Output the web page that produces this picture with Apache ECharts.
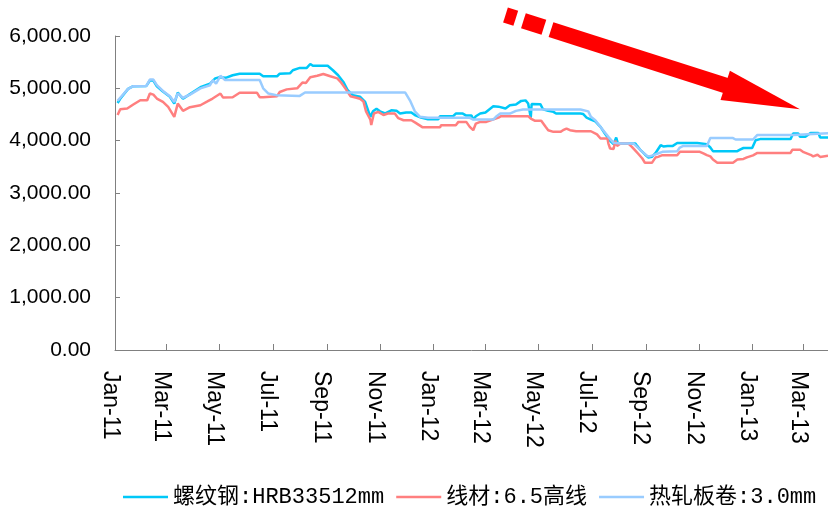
<!DOCTYPE html>
<html>
<head>
<meta charset="utf-8">
<script src="https://cdn.jsdelivr.net/npm/echarts@6/dist/echarts.min.js"></script>
<style>
  html, body { margin: 0; padding: 0; background: #ffffff; }
  #chart { width: 828px; height: 511px; }
</style>
</head>
<body>
<div id="chart"></div>
<script>
// Axis ticks: first day of every other month
const tickDates = ['2011-01-01', '2011-03-01', '2011-05-01', '2011-07-01', '2011-09-01', '2011-11-01',
  '2012-01-01', '2012-03-01', '2012-05-01', '2012-07-01', '2012-09-01', '2012-11-01',
  '2013-01-01', '2013-03-01'];
const tickLabels = ['Jan-11', 'Mar-11', 'May-11', 'Jul-11', 'Sep-11', 'Nov-11',
  'Jan-12', 'Mar-12', 'May-12', 'Jul-12', 'Sep-12', 'Nov-12',
  'Jan-13', 'Mar-13'];
const seriesNames = ['螺纹钢:HRB33512mm', '线材:6.5高线', '热轧板卷:3.0mm'];

// 螺纹钢 HRB335 12mm (元/吨)
const rebarDates = ['2011-01-04', '2011-01-07', '2011-01-16', '2011-01-22', '2011-02-06', '2011-02-10', '2011-02-14', '2011-02-18',
  '2011-02-25', '2011-03-05', '2011-03-10', '2011-03-14', '2011-03-20', '2011-03-28', '2011-04-09', '2011-04-20',
  '2011-04-26', '2011-04-30', '2011-05-08', '2011-05-16', '2011-05-24', '2011-06-16', '2011-06-20', '2011-07-06',
  '2011-07-09', '2011-07-21', '2011-07-24', '2011-08-01', '2011-08-09', '2011-08-13', '2011-08-16', '2011-09-02',
  '2011-09-08', '2011-09-14', '2011-09-20', '2011-09-25', '2011-10-01', '2011-10-09', '2011-10-15', '2011-10-21',
  '2011-10-24', '2011-10-28', '2011-11-01', '2011-11-07', '2011-11-14', '2011-11-20', '2011-11-24', '2011-12-01',
  '2011-12-07', '2011-12-11', '2011-12-18', '2011-12-26', '2012-01-07', '2012-01-09', '2012-01-24', '2012-01-27',
  '2012-02-04', '2012-02-08', '2012-02-14', '2012-02-16', '2012-02-19', '2012-02-24', '2012-03-01', '2012-03-10',
  '2012-03-16', '2012-03-24', '2012-03-29', '2012-04-05', '2012-04-11', '2012-04-16', '2012-04-19', '2012-04-21',
  '2012-04-22', '2012-04-23', '2012-05-03', '2012-05-06', '2012-05-12', '2012-05-18', '2012-05-21', '2012-06-18',
  '2012-06-21', '2012-06-25', '2012-06-30', '2012-07-05', '2012-07-11', '2012-07-16', '2012-07-22', '2012-07-26',
  '2012-07-29', '2012-07-31', '2012-08-20', '2012-08-22', '2012-08-26', '2012-08-31', '2012-09-04', '2012-09-08',
  '2012-09-12', '2012-09-18', '2012-09-21', '2012-09-26', '2012-10-02', '2012-10-07', '2012-10-30', '2012-10-31',
  '2012-11-10', '2012-11-14', '2012-11-17', '2012-12-15', '2012-12-18', '2012-12-22', '2013-01-01', '2013-01-05',
  '2013-01-10', '2013-02-14', '2013-02-17', '2013-02-23', '2013-02-25', '2013-03-03', '2013-03-09', '2013-03-18',
  '2013-03-20', '2013-03-29'];
const rebarPrices = [4720, 4800, 4990, 5040, 5046, 5150, 5150, 5040,
  4940, 4840, 4710, 4920, 4800, 4890, 5020, 5090,
  5190, 5210, 5200, 5250, 5280, 5280, 5231, 5231,
  5280, 5290, 5346, 5390, 5390, 5465, 5430, 5430,
  5346, 5250, 5122, 4964, 4870, 4840, 4740, 4455,
  4560, 4610, 4560, 4520, 4580, 4570, 4520, 4540,
  4540, 4490, 4440, 4410, 4410, 4467, 4467, 4518,
  4518, 4480, 4480, 4404, 4467, 4518, 4540, 4658,
  4650, 4614, 4677, 4690, 4760, 4770, 4709, 4709,
  4440, 4700, 4697, 4600, 4569, 4550, 4518, 4518,
  4510, 4442, 4404, 4370, 4264, 4137, 3996, 3933,
  4060, 3945, 3945, 3900, 3818, 3736, 3677, 3690,
  3760, 3913, 3890, 3900, 3900, 3955, 3955, 3933,
  3933, 3869, 3800, 3800, 3830, 3860, 3860, 4009,
  4030, 4030, 4137, 4137, 4073, 4073, 4148, 4148,
  4060, 4060];

// 线材 6.5 高线 (元/吨)
const wireDates = ['2011-01-04', '2011-01-07', '2011-01-15', '2011-01-22', '2011-01-30', '2011-02-07', '2011-02-10', '2011-02-14',
  '2011-02-18', '2011-02-25', '2011-03-03', '2011-03-10', '2011-03-14', '2011-03-20', '2011-03-28', '2011-04-09',
  '2011-04-17', '2011-04-23', '2011-05-02', '2011-05-05', '2011-05-16', '2011-05-24', '2011-06-13', '2011-06-16',
  '2011-06-20', '2011-07-06', '2011-07-09', '2011-07-17', '2011-07-29', '2011-08-04', '2011-08-08', '2011-08-13',
  '2011-08-21', '2011-08-28', '2011-09-05', '2011-09-13', '2011-09-17', '2011-09-23', '2011-09-28', '2011-10-05',
  '2011-10-09', '2011-10-13', '2011-10-16', '2011-10-21', '2011-10-22', '2011-10-25', '2011-10-30', '2011-11-05',
  '2011-11-10', '2011-11-18', '2011-11-22', '2011-11-28', '2011-12-07', '2011-12-12', '2011-12-20', '2012-01-09',
  '2012-01-10', '2012-01-27', '2012-01-30', '2012-02-08', '2012-02-12', '2012-02-16', '2012-02-19', '2012-02-24',
  '2012-03-02', '2012-03-16', '2012-03-19', '2012-04-19', '2012-04-22', '2012-04-27', '2012-05-04', '2012-05-09',
  '2012-05-12', '2012-05-18', '2012-05-26', '2012-05-29', '2012-06-02', '2012-06-06', '2012-06-13', '2012-06-30',
  '2012-07-07', '2012-07-11', '2012-07-19', '2012-07-20', '2012-07-22', '2012-07-26', '2012-07-28', '2012-07-30',
  '2012-08-03', '2012-08-12', '2012-08-16', '2012-08-20', '2012-08-23', '2012-08-28', '2012-08-31', '2012-09-08',
  '2012-09-12', '2012-09-15', '2012-09-20', '2012-10-07', '2012-10-10', '2012-11-02', '2012-11-06', '2012-11-10',
  '2012-11-14', '2012-11-17', '2012-11-22', '2012-12-10', '2012-12-15', '2012-12-22', '2012-12-26', '2013-01-02',
  '2013-01-07', '2013-02-14', '2013-02-16', '2013-02-25', '2013-03-01', '2013-03-09', '2013-03-12', '2013-03-17',
  '2013-03-20', '2013-03-29'];
const wirePrices = [4490, 4600, 4614, 4690, 4773, 4773, 4900, 4880,
  4805, 4741, 4646, 4455, 4709, 4570, 4640, 4677,
  4750, 4805, 4900, 4823, 4830, 4915, 4915, 4830,
  4830, 4850, 4930, 4980, 5000, 5110, 5100, 5210,
  5240, 5275, 5230, 5190, 5120, 4980, 4850, 4820,
  4800, 4750, 4560, 4400, 4300, 4520, 4550, 4490,
  4518, 4518, 4430, 4390, 4390, 4340, 4255, 4255,
  4296, 4296, 4359, 4359, 4264, 4200, 4327, 4359,
  4359, 4442, 4468, 4468, 4423, 4379, 4379, 4264,
  4200, 4168, 4168, 4200, 4232, 4200, 4180, 4180,
  4120, 4041, 4041, 3950, 3850, 3840, 4000, 3900,
  3945, 3945, 3882, 3810, 3754, 3659, 3576, 3576,
  3677, 3690, 3723, 3723, 3786, 3786, 3755, 3723,
  3700, 3640, 3580, 3580, 3640, 3650, 3680, 3720,
  3765, 3765, 3825, 3825, 3780, 3730, 3700, 3730,
  3690, 3710];

// 热轧板卷 3.0mm (元/吨)
const coilDates = ['2011-01-04', '2011-01-07', '2011-01-16', '2011-01-22', '2011-02-06', '2011-02-10', '2011-02-14', '2011-02-18',
  '2011-02-25', '2011-03-05', '2011-03-10', '2011-03-14', '2011-03-20', '2011-03-28', '2011-04-09', '2011-04-20',
  '2011-04-23', '2011-04-27', '2011-05-02', '2011-05-07', '2011-06-16', '2011-06-20', '2011-06-26', '2011-07-05',
  '2011-07-06', '2011-08-01', '2011-08-07', '2011-11-30', '2011-12-06', '2011-12-11', '2011-12-17', '2011-12-26',
  '2012-02-12', '2012-02-16', '2012-03-10', '2012-03-13', '2012-03-18', '2012-03-29', '2012-04-05', '2012-04-13',
  '2012-06-18', '2012-06-27', '2012-06-30', '2012-07-05', '2012-07-14', '2012-07-20', '2012-07-26', '2012-08-03',
  '2012-08-18', '2012-08-22', '2012-08-28', '2012-09-03', '2012-09-06', '2012-09-09', '2012-09-14', '2012-09-20',
  '2012-10-07', '2012-10-10', '2012-10-14', '2012-11-10', '2012-11-14', '2012-12-10', '2012-12-13', '2013-01-02',
  '2013-01-07', '2013-02-17', '2013-02-19', '2013-03-29'];
const coilPrices = [4760, 4820, 4990, 5040, 5046, 5168, 5168, 5060,
  4950, 4850, 4740, 4900, 4820, 4880, 5000, 5060,
  5155, 5090, 5240, 5160, 5160, 5000, 4900, 4870,
  4855, 4855, 4920, 4920, 4750, 4560, 4455, 4436,
  4436, 4404, 4404, 4455, 4518, 4518, 4569, 4595,
  4595, 4560, 4455, 4391, 4200, 4073, 3958, 3945,
  3945, 3882, 3786, 3704, 3704, 3720, 3750, 3786,
  3800, 3869, 3900, 3900, 4050, 4050, 4022, 4022,
  4110, 4110, 4140, 4140];

const seriesColors = ['#00C8F8', '#FF7F7F', '#99CCFF'];

// Dates are placed on a numeric axis as day offsets from the first tick
const DAY = 86400000;
const origin = Date.UTC(2011, 0, 1);
function toDay(s) {
  const p = s.split('-').map(Number);
  return Math.round((Date.UTC(p[0], p[1] - 1, p[2]) - origin) / DAY);
}
function pairs(dates, values) {
  return dates.map((d, i) => [toDay(d), values[i]]);
}
function thousands(v) {
  const parts = Number(v).toFixed(2).split('.');
  return parts[0].replace(/\B(?=(\d{3})+(?!\d))/g, ',') + '.' + parts[1];
}
const tickDays = tickDates.map(toDay);

// Downward trend arrow: two dashes, then a solid shaft ending in a head
function trendArrow() {
  const ox = 505.5, oy = 15;
  const ang = Math.atan2(94.3, 294.5);
  const ux = Math.cos(ang), uy = Math.sin(ang);
  const nx = -uy, ny = ux;
  const pt = (s, w) => [ox + ux * s + nx * w, oy + uy * s + ny * w];
  const hw = 7.8;
  const style = { fill: '#FF0000' };
  const bar = (a, b) => ({
    type: 'polygon', silent: true, z: 100,
    shape: { points: [pt(a, -hw), pt(b, -hw), pt(b, hw), pt(a, hw)] },
    style: style
  });
  return [
    bar(0, 10.8),
    bar(18.8, 40.3),
    bar(47.8, 232),
    { type: 'polygon', silent: true, z: 100,
      shape: { points: [pt(230.7, -15.4), pt(309.2, 0), pt(230.7, 15.4)] },
      style: style }
  ];
}

const axisGrey = '#808080';
const latin = '"Liberation Sans", Arial, sans-serif';

const chart = echarts.init(document.getElementById('chart'), null, { renderer: 'canvas' });
chart.setOption({
  animation: false,
  backgroundColor: '#ffffff',
  grid: { left: 115, right: 0, top: 36, bottom: 161, containLabel: false },
  legend: {
    left: 123, top: 486,
    padding: 0,
    icon: 'rect',
    itemWidth: 45, itemHeight: 2.5, itemGap: 12,
    textStyle: { fontSize: 22, color: '#000', fontFamily: '"Liberation Mono", "Noto Sans CJK SC", monospace' },
    data: seriesNames
  },
  xAxis: {
    type: 'value',
    min: 0,
    max: toDay('2013-03-29'),
    axisLine: { lineStyle: { color: axisGrey, width: 1 } },
    axisTick: { show: true, inside: true, length: 6, customValues: tickDays, lineStyle: { color: axisGrey } },
    axisLabel: {
      customValues: tickDays,
      rotate: -90,
      margin: 21,
      fontSize: 23,
      fontFamily: latin,
      color: '#000',
      verticalAlign: 'top',
      lineHeight: 10,
      formatter: function (val) {
        const i = tickDays.indexOf(val);
        return i >= 0 ? tickLabels[i] : '';
      }
    },
    splitLine: { show: false }
  },
  yAxis: {
    type: 'value',
    min: 0, max: 6000, interval: 1000,
    axisLine: { show: true, lineStyle: { color: axisGrey, width: 1 } },
    axisTick: { show: true, inside: true, length: 5, lineStyle: { color: axisGrey } },
    axisLabel: { margin: 24, fontSize: 21, fontFamily: latin, color: '#000', formatter: thousands },
    splitLine: { show: false }
  },
  series: [
    { name: seriesNames[0], type: 'line', symbol: 'none', data: pairs(rebarDates, rebarPrices),
      lineStyle: { color: seriesColors[0], width: 2.5 }, itemStyle: { color: seriesColors[0] } },
    { name: seriesNames[1], type: 'line', symbol: 'none', data: pairs(wireDates, wirePrices),
      lineStyle: { color: seriesColors[1], width: 2.5 }, itemStyle: { color: seriesColors[1] } },
    { name: seriesNames[2], type: 'line', symbol: 'none', data: pairs(coilDates, coilPrices),
      lineStyle: { color: seriesColors[2], width: 2.5 }, itemStyle: { color: seriesColors[2] } }
  ],
  graphic: trendArrow()
});
</script>
</body>
</html>
